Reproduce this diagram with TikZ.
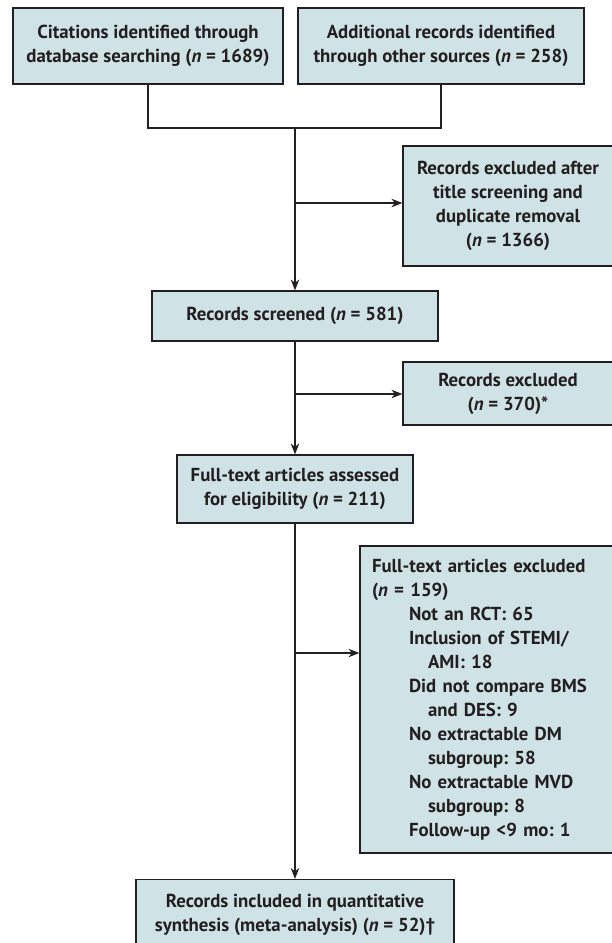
\documentclass[tikz,border=0pt]{standalone}
\usepackage{fontspec}
\setmainfont{PT Sans}
\usetikzlibrary{arrows.meta}
\definecolor{boxfill}{RGB}{207,226,230}
\definecolor{ink}{RGB}{35,31,32}
\frenchspacing

\begin{document}
\begin{tikzpicture}[x=1pt, y=-1pt,
        box/.style={draw=ink, line width=1.2pt, fill=boxfill, text=ink, inner sep=0pt, align=center,
            font=\fontsize{18.8}{24}\selectfont\bfseries},
        link/.style={draw=ink, line width=1.2pt},
        arr/.style={link, -{Stealth[length=11pt,width=8.5pt]}}]
        \useasboundingbox (0,0) rectangle (611,943);

        % Identification
        \node[box, minimum width=270, minimum height=76] (cit) at (148,46) {Citations identified through\\database searching (\textit{n} = 1689)};
        \node[box, minimum width=286, minimum height=76] (add) at (441,46) {Additional records identified\\through other sources (\textit{n} = 258)};
        \coordinate (join) at (295,128);

        % Screening
        \node[box, minimum width=210, minimum height=120] (exa) at (508,206) {Records excluded after\\title screening and\\duplicate removal\\(\textit{n} = 1366)};
        \node[box, minimum width=286, minimum height=50] (scr) at (295,316) {Records screened (\textit{n} = 581)};
        \node[box, minimum width=210, minimum height=63] (exb) at (508,393.5) {Records excluded\\(\textit{n} = 370)*};

        % Eligibility
        \node[box, minimum width=236, minimum height=68] (ful) at (295,489) {Full-text articles assessed\\for eligibility (\textit{n} = 211)};
        \node[box, inner xsep=12pt, minimum height=307, text width=236, align=left] (exc) at (490,699.5) {Full-text articles excluded\\
            (\textit{n} = 159)\\
            \hspace*{37pt}Not an RCT: 65\\
            \hspace*{37pt}Inclusion of STEMI/\\
            \hspace*{56pt}AMI: 18\\
            \hspace*{37pt}Did not compare BMS\\
            \hspace*{56pt}and DES: 9\\
            \hspace*{37pt}No extractable DM\\
            \hspace*{56pt}subgroup: 58\\
            \hspace*{37pt}No extractable MVD\\
            \hspace*{56pt}subgroup: 8\\
            \hspace*{37pt}Follow-up <9 mo: 1};

        % Included
        \node[box, minimum width=318, minimum height=70] (inc) at (295,914.5) {Records included in quantitative\\synthesis (meta-analysis) (\textit{n} = 52)†};

        % Connectors
        \draw[link] (cit.south) |- (join) -| (add.south);
        \draw[arr] (join) -- (scr.north);
        \coordinate (ba) at (295,203);
        \draw[arr] (ba) -- (ba -| exa.west);

        \draw[arr] (scr.south) -- (ful.north);
        \coordinate (bb) at (295,394);
        \draw[arr] (bb) -- (bb -| exb.west);

        \draw[arr] (ful.south) -- (inc.north);
        \coordinate (bc) at (295,653);
        \draw[arr] (bc) -- (bc -| exc.west);

    \end{tikzpicture}
\end{document}
